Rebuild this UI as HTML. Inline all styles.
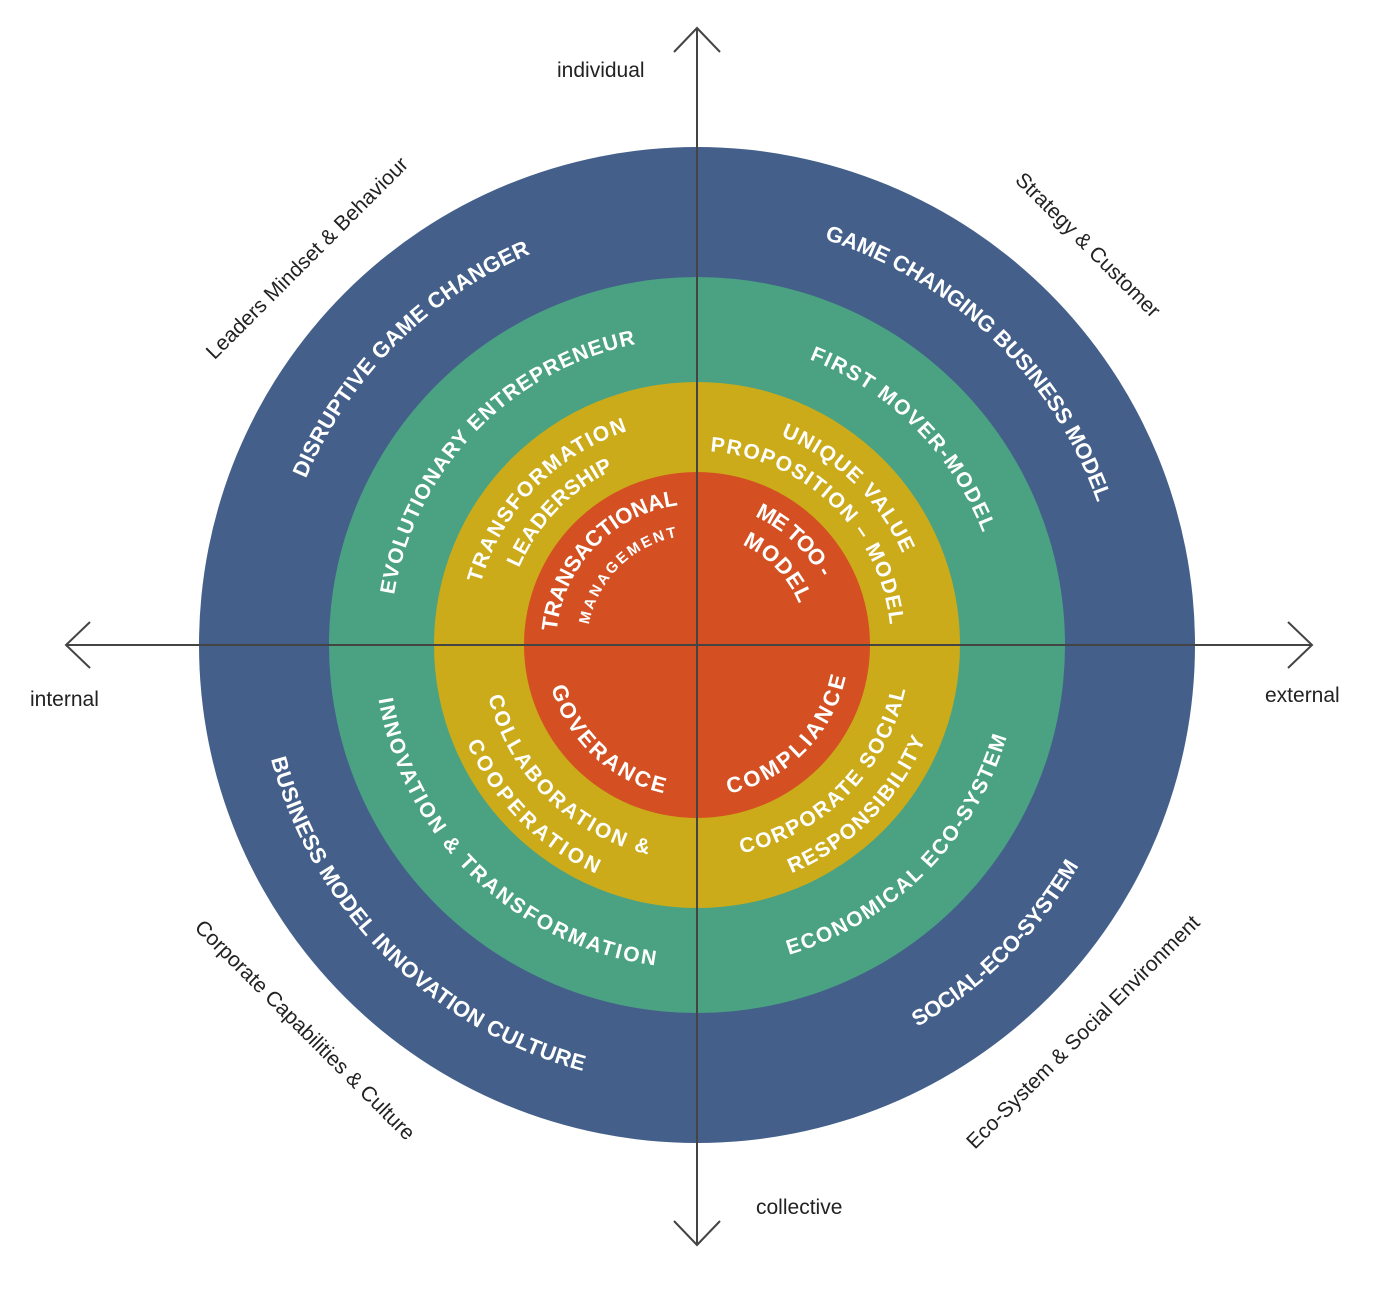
<!DOCTYPE html>
<html><head><meta charset="utf-8"><style>
html,body{margin:0;padding:0;background:#fff;}
svg{display:block;}
.w{font-family:"Liberation Sans",sans-serif;font-weight:bold;fill:#fff;}
.o{font-family:"Liberation Sans",sans-serif;fill:#222;font-size:21px;}
</style></head><body>
<svg width="1390" height="1301" viewBox="0 0 1390 1301" xmlns="http://www.w3.org/2000/svg">
<defs>
<path id="c425" d="M1122 645 A425 425 0 1 1 272 645 A425 425 0 1 1 1122 645"/>
<path id="a441" d="M1138 645 A441 441 0 1 0 256 645 A441 441 0 1 0 1138 645"/>
<path id="c307" d="M1004 645 A307 307 0 1 1 390 645 A307 307 0 1 1 1004 645"/>
<path id="a323" d="M1020 645 A323 323 0 1 0 374 645 A323 323 0 1 0 1020 645"/>
<path id="c225" d="M922 645 A225 225 0 1 1 472 645 A225 225 0 1 1 922 645"/>
<path id="c194" d="M891 645 A194 194 0 1 1 503 645 A194 194 0 1 1 891 645"/>
<path id="a215" d="M912 645 A215 215 0 1 0 482 645 A215 215 0 1 0 912 645"/>
<path id="a250" d="M947 645 A250 250 0 1 0 447 645 A250 250 0 1 0 947 645"/>
<path id="a213" d="M910 645 A213 213 0 1 0 484 645 A213 213 0 1 0 910 645"/>
<path id="a247" d="M944 645 A247 247 0 1 0 450 645 A247 247 0 1 0 944 645"/>
<path id="c141" d="M838 645 A141 141 0 1 1 556 645 A141 141 0 1 1 838 645"/>
<path id="c110" d="M807 645 A110 110 0 1 1 587 645 A110 110 0 1 1 807 645"/>
<path id="a152" d="M849 645 A152 152 0 1 0 545 645 A152 152 0 1 0 849 645"/>
</defs>
<circle cx="697" cy="645" r="498" fill="#44608a"/>
<circle cx="697" cy="645" r="368" fill="#4aa283"/>
<circle cx="697" cy="645" r="263" fill="#cbab19"/>
<circle cx="697" cy="645" r="173" fill="#d45022"/>

<g class="w" font-size="22" text-anchor="middle">
<text><textPath href="#c425" startOffset="62.5%" textLength="326" lengthAdjust="spacing">DISRUPTIVE GAME CHANGER</textPath></text>
<text><textPath href="#c425" startOffset="87.2%" textLength="393" lengthAdjust="spacing">GAME CHANGING BUSINESS MODEL</textPath></text>
<text><textPath href="#a441" startOffset="62.5%" textLength="462" lengthAdjust="spacing">BUSINESS MODEL INNOVATION CULTURE</textPath></text>
<text><textPath href="#a441" startOffset="87.5%" textLength="231" lengthAdjust="spacing">SOCIAL-ECO-SYSTEM</textPath></text>
</g>
<g class="w" font-size="21" text-anchor="middle">
<text><textPath href="#c307" startOffset="62.2%" textLength="370" lengthAdjust="spacing">EVOLUTIONARY ENTREPRENEUR</textPath></text>
<text><textPath href="#c307" startOffset="87.5%" textLength="252" lengthAdjust="spacing">FIRST MOVER-MODEL</textPath></text>
<text><textPath href="#a323" startOffset="62.8%" textLength="411" lengthAdjust="spacing">INNOVATION &amp; TRANSFORMATION</textPath></text>
<text><textPath href="#a323" startOffset="87.5%" textLength="321" lengthAdjust="spacing">ECONOMICAL ECO-SYSTEM</textPath></text>
</g>
<g class="w" font-size="21" text-anchor="middle">
<text><textPath href="#c225" startOffset="62.2%" textLength="220" lengthAdjust="spacing">TRANSFORMATION</textPath></text>
<text><textPath href="#c194" startOffset="62.2%" textLength="139" lengthAdjust="spacing">LEADERSHIP</textPath></text>
<text><textPath href="#c225" startOffset="87.2%" textLength="173" lengthAdjust="spacing">UNIQUE VALUE</textPath></text>
<text><textPath href="#c194" startOffset="87.2%" textLength="271" lengthAdjust="spacing">PROPOSITION – MODEL</textPath></text>
<text><textPath href="#a215" startOffset="62.6%" textLength="236" lengthAdjust="spacing">COLLABORATION &amp;</textPath></text>
<text><textPath href="#a250" startOffset="62.4%" textLength="188" lengthAdjust="spacing">COOPERATION</textPath></text>
<text><textPath href="#a213" startOffset="87.5%" textLength="245" lengthAdjust="spacing">CORPORATE SOCIAL</textPath></text>
<text><textPath href="#a247" startOffset="87.5%" textLength="194" lengthAdjust="spacing">RESPONSIBILITY</textPath></text>
</g>
<g class="w" font-size="22" text-anchor="middle">
<text><textPath href="#c141" startOffset="62.2%" textLength="189" lengthAdjust="spacing">TRANSACTIONAL</textPath></text>
<text font-size="15"><textPath href="#c110" startOffset="62.5%" textLength="132" lengthAdjust="spacing">MANAGEMENT</textPath></text>
<text><textPath href="#c141" startOffset="86.9%" textLength="92" lengthAdjust="spacing">ME TOO -</textPath></text>
<text><textPath href="#c110" startOffset="87.8%" textLength="84" lengthAdjust="spacing">MODEL</textPath></text>
<text><textPath href="#a152" startOffset="63%" textLength="162" lengthAdjust="spacing">GOVERANCE</textPath></text>
<text><textPath href="#a152" startOffset="87.5%" textLength="175" lengthAdjust="spacing">COMPLIANCE</textPath></text>
</g>

<g stroke="#444" stroke-width="2" fill="none">
<line x1="66" y1="645" x2="1312" y2="645"/>
<line x1="697" y1="28" x2="697" y2="1245"/>
<polyline points="90,622 66,645 90,668"/>
<polyline points="1288,622 1312,645 1288,668"/>
<polyline points="674,52 697,28 720,52"/>
<polyline points="674,1221 697,1245 720,1221"/>
</g>

<g class="o">
<text x="557" y="77">individual</text>
<text x="30" y="706">internal</text>
<text x="1265" y="702">external</text>
<text x="756" y="1214">collective</text>
<text text-anchor="middle" transform="translate(307,258) rotate(-45)" dy="7">Leaders Mindset &amp; Behaviour</text>
<text text-anchor="middle" transform="translate(1088,245) rotate(45)" dy="7">Strategy &amp; Customer</text>
<text text-anchor="middle" transform="translate(305,1030) rotate(45)" dy="7">Corporate Capabilities  &amp; Culture</text>
<text text-anchor="middle" transform="translate(1083,1032) rotate(-45)" dy="7">Eco-System &amp; Social Environment</text>
</g>
</svg>
</body></html>
